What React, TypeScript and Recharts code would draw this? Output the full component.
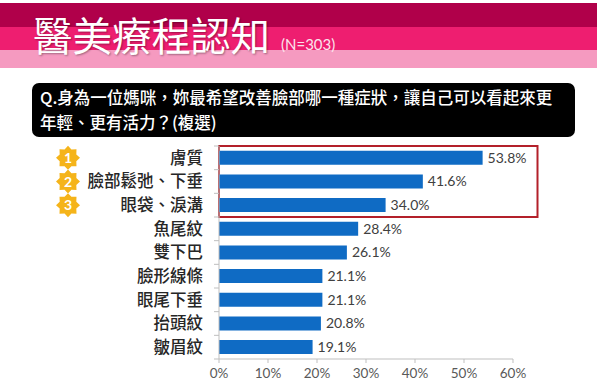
import React from "react"
import {
  BarChart,
  Bar,
  XAxis,
  YAxis,
  LabelList,
  ReferenceArea,
} from "recharts"

// survey answers, top to bottom
const categories = [
  "膚質",
  "臉部鬆弛、下垂",
  "眼袋、淚溝",
  "魚尾紋",
  "雙下巴",
  "臉形線條",
  "眼尾下垂",
  "抬頭紋",
  "皺眉紋",
]
const percents = [53.8, 41.6, 34.0, 28.4, 26.1, 21.1, 21.1, 20.8, 19.1]
const xTicks = [0, 10, 20, 30, 40, 50, 60]
const ranks = ["1", "2", "3"]

const data = categories.map((name, i) => ({ name, value: percents[i] }))

const W = 600
const H = 385
const PLOT_TOP = 146
const PLOT_BOTTOM = 359
const PLOT_LEFT = 219
const PLOT_RIGHT = 513
const BAND = (PLOT_BOTTOM - PLOT_TOP) / categories.length

const CJK = '"Noto Sans CJK TC", "Noto Sans", sans-serif'
const NUM = 'Lato, "Noto Sans", sans-serif'
const BLUE = "#0f6bc4"
const AXIS = "#bfbfbf"

function starPoints(cx: number, cy: number, outer: number, inner: number, n: number) {
  const pts: string[] = []
  for (let i = 0; i < n * 2; i++) {
    const r = i % 2 === 0 ? outer : inner
    const a = (Math.PI * i) / n - Math.PI / 2
    pts.push(`${cx + r * Math.cos(a)},${cy + r * Math.sin(a)}`)
  }
  return pts.join(" ")
}

function CategoryTick(props: any) {
  const { x, y, payload, index } = props
  const i = index ?? payload?.index ?? 0
  return (
    <g>
      {i < ranks.length && (
        <g>
          <polygon points={starPoints(68, y, 12, 9, 8)} fill="#f5b41a" />
          <text
            x={68}
            y={y}
            dy="0.36em"
            textAnchor="middle"
            fill="#fff"
            fontSize={14}
            fontWeight={700}
            fontFamily={NUM}
          >
            {ranks[i]}
          </text>
        </g>
      )}
      <text
        x={x - 8}
        y={y}
        dy="0.36em"
        textAnchor="end"
        fill="#262626"
        fontSize={16.5}
        fontWeight={500}
        fontFamily={CJK}
      >
        {payload.value}
      </text>
      <line x1={PLOT_LEFT - 5} x2={PLOT_LEFT} y1={y - BAND / 2} y2={y - BAND / 2} stroke={AXIS} />
      {i === categories.length - 1 && (
        <line x1={PLOT_LEFT - 5} x2={PLOT_LEFT} y1={y + BAND / 2} y2={y + BAND / 2} stroke={AXIS} />
      )}
    </g>
  )
}

export default function App() {
  return (
    <div
      lang="zh-TW"
      style={{
        position: "fixed",
        left: 0,
        top: 0,
        width: W,
        height: H,
        background: "#fff",
        overflow: "hidden",
        fontFamily: CJK,
      }}
    >
      {/* header bands */}
      <div style={{ position: "absolute", left: 0, top: 3, width: 597, height: 24, background: "#b0004a" }} />
      <div style={{ position: "absolute", left: 0, top: 27, width: 597, height: 23, background: "#ee1e70" }} />
      <div style={{ position: "absolute", left: 0, top: 50, width: 597, height: 18, background: "#f59ac0" }} />
      <div
        style={{
          position: "absolute",
          left: 33,
          top: 13,
          fontSize: 39.5,
          lineHeight: "42px",
          color: "#fff",
          fontFamily: CJK,
          fontWeight: 400,
          textShadow: "1px 1px 2px rgba(0,0,0,0.35)",
          whiteSpace: "nowrap",
        }}
      >
        醫美療程認知
      </div>
      <div
        style={{
          position: "absolute",
          left: 281,
          top: 35,
          fontSize: 15,
          lineHeight: "18px",
          color: "#fbe3ec",
          fontFamily: NUM,
          whiteSpace: "nowrap",
        }}
      >
        (N=303)
      </div>

      {/* question box */}
      <div
        style={{
          position: "absolute",
          left: 32,
          top: 83,
          width: 543,
          height: 54,
          boxSizing: "border-box",
          background: "#000",
          borderRadius: 7,
          color: "#fff",
          fontSize: 16.5,
          lineHeight: "25px",
          padding: "2px 0 0 8px",
          fontWeight: 500,
          whiteSpace: "nowrap",
        }}
      >
        Q.身為一位媽咪，妳最希望改善臉部哪一種症狀，讓自己可以看起來更
        <br />
        年輕、更有活力？(複選)
      </div>

      <div style={{ position: "absolute", left: 0, top: 0 }}>
        <BarChart
          width={W}
          height={H}
          data={data}
          layout="vertical"
          margin={{ top: PLOT_TOP, right: W - PLOT_RIGHT, bottom: 0, left: 0 }}
          barCategoryGap="20%"
        >
          <XAxis
            type="number"
            domain={[0, 60]}
            ticks={xTicks}
            tickFormatter={(v: number) => `${v}%`}
            height={H - PLOT_BOTTOM}
            axisLine={{ stroke: AXIS }}
            tickLine={{ stroke: AXIS }}
            tickSize={4}
            tickMargin={5}
            tick={{ fill: "#595959", fontSize: 13.5, fontFamily: NUM }}
            interval={0}
          />
          <YAxis
            type="category"
            dataKey="name"
            width={PLOT_LEFT}
            axisLine={{ stroke: AXIS }}
            tickLine={false}
            tick={<CategoryTick />}
            interval={0}
          />
          <Bar dataKey="value" fill={BLUE} isAnimationActive={false}>
            <LabelList
              dataKey="value"
              position="right"
              offset={5}
              formatter={(v: any) => `${Number(v).toFixed(1)}%`}
              fill="#404040"
              fontSize={14}
              fontFamily={NUM}
            />
          </Bar>
          <ReferenceArea
            x1={0}
            x2={65}
            y1={categories[0]}
            y2={categories[2]}
            ifOverflow="visible"
            fill="none"
            fillOpacity={0}
            stroke="#b3202a"
            strokeWidth={2}
          />
        </BarChart>
      </div>
    </div>
  )
}
